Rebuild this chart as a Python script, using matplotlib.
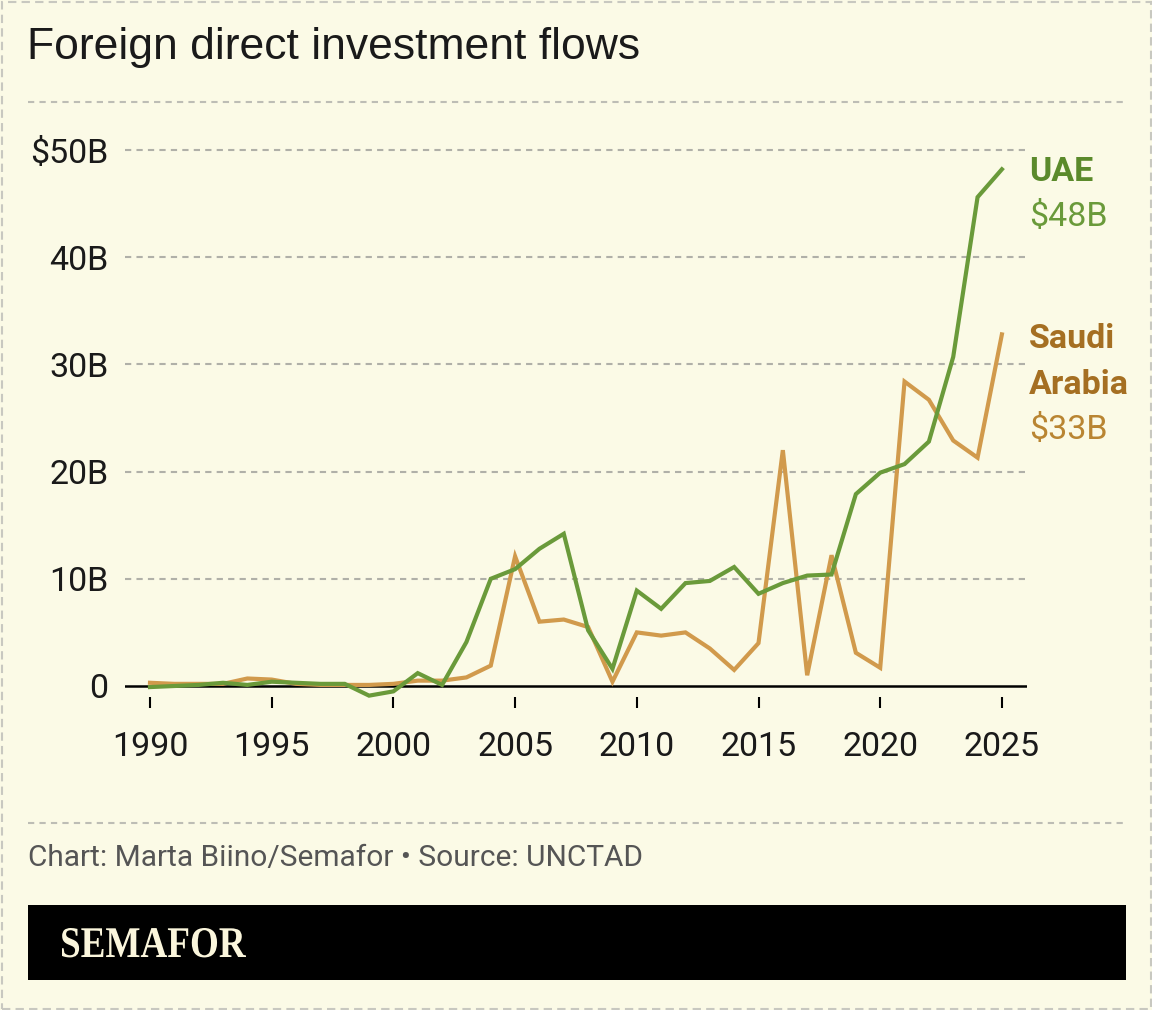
import matplotlib
matplotlib.use("Agg")
import matplotlib.pyplot as plt
from matplotlib.lines import Line2D
from matplotlib.patches import Rectangle, PathPatch
from matplotlib.textpath import TextPath
from matplotlib.font_manager import FontProperties
from matplotlib.transforms import Affine2D, IdentityTransform

years = list(range(1990, 2026))
uae = [-0.1, 0.0, 0.1, 0.3, 0.1, 0.4, 0.3, 0.2, 0.2, -0.9, -0.5, 1.2, 0.1, 4.1, 10.0, 10.9,
       12.8, 14.2, 5.2, 1.6, 8.9, 7.2, 9.6, 9.8, 11.1, 8.6, 9.6, 10.3, 10.4, 17.9, 19.9, 20.7,
       22.8, 30.7, 45.6, 48.2]
saudi = [0.3, 0.2, 0.2, 0.2, 0.7, 0.6, 0.2, 0.1, 0.1, 0.1, 0.2, 0.5, 0.5, 0.8, 1.9, 12.1,
         6.0, 6.2, 5.5, 0.4, 5.0, 4.7, 5.0, 3.5, 1.5, 4.0, 22.0, 1.0, 12.2, 3.1, 1.7, 28.4,
         26.7, 22.9, 21.3, 32.8]
xticks = [1990, 1995, 2000, 2005, 2010, 2015, 2020, 2025]
yticks = [0, 10, 20, 30, 40, 50]
ytick_labels = ["0", "10B", "20B", "30B", "40B", "$50B"]

title = "Foreign direct investment flows"
source = "Chart: Marta Biino/Semafor \u2022 Source: UNCTAD"
brand = "SEMAFOR"

BG = "#fbfae6"
GREEN = "#6a9a3a"
GREEN_DARK = "#5b8a2b"
ORANGE = "#d19a4c"
ORANGE_DARK = "#a56f22"
GRID = "#b0b0a8"

labfont = "Roboto"
tickfont = "Roboto"

W, H = 1152, 1010
fig = plt.figure(figsize=(W / 100, H / 100), dpi=100, facecolor=BG)

def fx(px):
    return px / W

def fy(py):
    return 1 - py / H

# outer dashed border
fig.add_artist(Rectangle((fx(1.5), fy(1008.5)), fx(1149), 1007 / H, transform=fig.transFigure,
                         fill=False, edgecolor="#c8c8c0", linewidth=1.5, linestyle=(0, (4, 2.5))))

# title
fig.text(fx(27), fy(47), title, fontsize=32, family="Liberation Sans", color="#1a1a1a",
         va="center", ha="left")
# separator lines
for yy in (102, 823):
    fig.add_artist(Line2D([fx(28), fx(1126)], [fy(yy), fy(yy)], transform=fig.transFigure,
                          color="#bdbdb5", linewidth=1.5, linestyle=(0, (3, 2.5))))

# source
fig.text(fx(28), fy(858), source, fontsize=21.5, family=labfont, color="#555555",
         va="center", ha="left")

# brand band
fig.add_artist(Rectangle((fx(28), fy(980)), fx(1098), 75 / H, transform=fig.transFigure,
                         facecolor="black", edgecolor="none"))
tp = TextPath((0, 0), brand, size=1, prop=FontProperties(family="Liberation Serif", weight="bold"))
ext = tp.get_extents()
target_w, cap_h = 184.0, 29.0
sy = cap_h / 0.662
sx = target_w / ext.width
tr = Affine2D().translate(-ext.x0, 0).scale(sx, sy).translate(62, H - 957)
fig.add_artist(PathPatch(tp, transform=tr + IdentityTransform(), facecolor="#fbf6dc",
                         edgecolor="none"))

# axes: y=0 at px 686, 10B = 107.2 px; x: 1990 at 150, 24.34 px/yr
y0px, ppb = 686.0, 10.72
ymin, ymax = -1.0, 52.0
bottom_px = y0px - ymin * ppb
top_px = y0px - ymax * ppb
x0px, ppy = 150.0, 24.34
xmin = 1990 - (150 - 125) / ppy
xmax = 1990 + (1027 - 150) / ppy
ax = fig.add_axes([fx(125), fy(bottom_px), fx(1027 - 125), (bottom_px - top_px) / H])
ax.set_facecolor("none")
ax.set_xlim(xmin, xmax)
ax.set_ylim(ymin, ymax)
for s in ax.spines.values():
    s.set_visible(False)

for v in yticks[1:]:
    ax.axhline(v, color=GRID, linewidth=1.5, linestyle=(0, (3, 2.5)), zorder=1)
ax.axhline(0, color="black", linewidth=1.8, zorder=2)

ax.plot(years, saudi, color=ORANGE, linewidth=3.0, zorder=3, clip_on=False,
        solid_joinstyle="miter")
ax.plot(years, uae, color=GREEN, linewidth=3.0, zorder=4, clip_on=False,
        solid_joinstyle="miter")

ax.set_xticks(xticks)
ax.set_xticklabels([str(x) for x in xticks])
ax.set_yticks(yticks)
ax.set_yticklabels(ytick_labels)
ax.tick_params(axis="x", direction="out", length=8, width=1.5, color="black", pad=17,
               labelsize=24.5, labelcolor="#1a1a1a")
ax.tick_params(axis="y", length=0, pad=12, labelsize=24.5, labelcolor="#1a1a1a")
for lab in ax.get_xticklabels() + ax.get_yticklabels():
    lab.set_family(tickfont)

# end labels
lx = 1990 + (1029 - 150) / ppy
def lab(text, ypx, color, bold):
    ax.text(lx, (y0px - ypx) / ppb, text, color=color, fontsize=24.5,
            family=labfont, weight="bold" if bold else "normal",
            va="center", ha="left", clip_on=False)

lab("UAE", 172, GREEN_DARK, True)
lab("$%dB" % round(uae[-1]), 217, GREEN, False)
lab("Saudi", 339, ORANGE_DARK, True)
lab("Arabia", 385, ORANGE_DARK, True)
lab("$%dB" % round(saudi[-1]), 430, "#b98532", False)

fig.savefig("out.png", dpi=100, facecolor=BG)
